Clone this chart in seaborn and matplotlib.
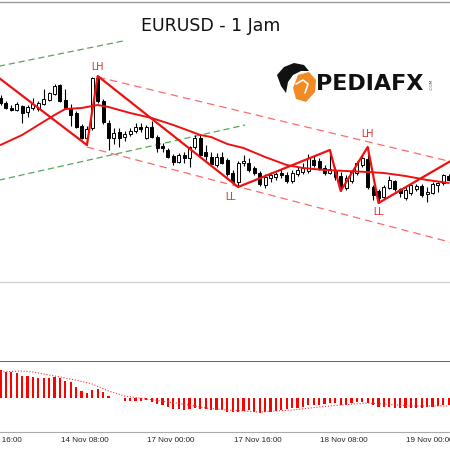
import numpy as np
import pandas as pd
import matplotlib
matplotlib.use("Agg")
import matplotlib.pyplot as plt
import seaborn as sns
from matplotlib.patches import Polygon
from matplotlib.transforms import blended_transform_factory

# EURUSD H1, candle 0 = 13 Nov 21:00
opens = [1.2502, 1.2497, 1.2492, 1.2490, 1.2494, 1.2488, 1.2492, 1.2491, 1.2496, 1.2500,
         1.2506, 1.2515, 1.2500, 1.2492, 1.2487, 1.2474, 1.2462, 1.2472, 1.2522, 1.2499,
         1.2477, 1.2462, 1.2468, 1.2463, 1.2466, 1.2469, 1.2473, 1.2462, 1.2473, 1.2463,
         1.2454, 1.2450, 1.2444, 1.2438, 1.2445, 1.2442, 1.2453, 1.2462, 1.2448, 1.2443,
         1.2435, 1.2443, 1.2440, 1.2427, 1.2418, 1.2437, 1.2437, 1.2432, 1.2427, 1.2415,
         1.2422, 1.2423, 1.2427, 1.2425, 1.2419, 1.2426, 1.2428, 1.2429, 1.2440, 1.2439,
         1.2432, 1.2427, 1.2430, 1.2424, 1.2412, 1.2419, 1.2427, 1.2435, 1.2441, 1.2413,
         1.2409, 1.2403, 1.2412, 1.2419, 1.2411, 1.2402, 1.2407, 1.2411, 1.2414, 1.2406,
         1.2407, 1.2415, 1.2417, 1.2424]
highs = [1.2505, 1.2499, 1.2495, 1.2498, 1.2495, 1.2495, 1.2502, 1.2499, 1.2511, 1.2508,
         1.2516, 1.2516, 1.2511, 1.2496, 1.2489, 1.2476, 1.2474, 1.2523, 1.2524, 1.2501,
         1.2480, 1.2472, 1.2472, 1.2469, 1.2472, 1.2477, 1.2477, 1.2475, 1.2479, 1.2465,
         1.2457, 1.2452, 1.2446, 1.2447, 1.2448, 1.2454, 1.2465, 1.2465, 1.2455, 1.2448,
         1.2447, 1.2448, 1.2442, 1.2430, 1.2439, 1.2445, 1.2442, 1.2434, 1.2429, 1.2426,
         1.2428, 1.2428, 1.2431, 1.2428, 1.2430, 1.2433, 1.2437, 1.2446, 1.2444, 1.2442,
         1.2435, 1.2450, 1.2433, 1.2428, 1.2425, 1.2430, 1.2439, 1.2445, 1.2453, 1.2415,
         1.2411, 1.2415, 1.2424, 1.2420, 1.2412, 1.2413, 1.2416, 1.2416, 1.2416, 1.2413,
         1.2418, 1.2418, 1.2426, 1.2426]
lows = [1.2495, 1.2491, 1.2489, 1.2489, 1.2477, 1.2483, 1.2490, 1.2489, 1.2495, 1.2499,
        1.2505, 1.2498, 1.2491, 1.2474, 1.2472, 1.2461, 1.2455, 1.2470, 1.2497, 1.2476,
        1.2450, 1.2456, 1.2453, 1.2459, 1.2464, 1.2467, 1.2468, 1.2461, 1.2462, 1.2448,
        1.2448, 1.2442, 1.2435, 1.2437, 1.2437, 1.2433, 1.2451, 1.2443, 1.2440, 1.2435,
        1.2433, 1.2436, 1.2424, 1.2416, 1.2413, 1.2434, 1.2428, 1.2425, 1.2414, 1.2412,
        1.2418, 1.2420, 1.2422, 1.2417, 1.2417, 1.2424, 1.2426, 1.2427, 1.2433, 1.2430,
        1.2425, 1.2426, 1.2420, 1.2409, 1.2410, 1.2417, 1.2425, 1.2433, 1.2411, 1.2400,
        1.2397, 1.2401, 1.2411, 1.2409, 1.2403, 1.2400, 1.2405, 1.2409, 1.2403, 1.2398,
        1.2406, 1.2408, 1.2415, 1.2419]
closes = [1.2497, 1.2492, 1.2490, 1.2496, 1.2487, 1.2493, 1.2496, 1.2497, 1.2501, 1.2507,
          1.2514, 1.2499, 1.2492, 1.2485, 1.2473, 1.2462, 1.2471, 1.2522, 1.2499, 1.2478,
          1.2462, 1.2467, 1.2462, 1.2466, 1.2469, 1.2473, 1.2471, 1.2473, 1.2463, 1.2452,
          1.2452, 1.2443, 1.2438, 1.2445, 1.2442, 1.2453, 1.2462, 1.2445, 1.2444, 1.2436,
          1.2443, 1.2437, 1.2426, 1.2418, 1.2437, 1.2439, 1.2430, 1.2427, 1.2416, 1.2423,
          1.2425, 1.2426, 1.2425, 1.2419, 1.2427, 1.2430, 1.2432, 1.2442, 1.2435, 1.2432,
          1.2427, 1.2431, 1.2423, 1.2412, 1.2422, 1.2428, 1.2437, 1.2442, 1.2413, 1.2405,
          1.2402, 1.2413, 1.2420, 1.2411, 1.2407, 1.2410, 1.2415, 1.2414, 1.2405, 1.2408,
          1.2416, 1.2417, 1.2425, 1.2420]

# moving average read at some bars
ma_idx = [0, 4, 7, 10, 12, 15, 17, 18, 20, 24, 28, 32, 37, 39, 42, 45, 49, 53, 56, 60, 64, 68, 71, 75, 79, 83]
ma_val = [1.2455, 1.2465, 1.2475, 1.2485, 1.2491, 1.2492, 1.2494, 1.2495, 1.2493, 1.2487, 1.2482, 1.2475, 1.2465,
          1.2463, 1.2456, 1.2452, 1.2443, 1.2435, 1.2432, 1.2430, 1.2429, 1.2428, 1.2427, 1.2424, 1.2420, 1.2417]

# zigzag swing points
zz_idx = [-1, 16, 18, 44, 61, 63, 68, 70, 84]
zz_val = [1.2525, 1.2455, 1.2524, 1.2413, 1.2450, 1.2409, 1.2453, 1.2397, 1.2441]

swing_idx = [17.9, 42.7, 68, 70, 84.5]
swing_val = [1.2533, 1.2403, 1.2466, 1.2388, 1.2449]
swing_txt = ["LH", "LL", "LH", "LL", "LH"]

# trend lines (start, end)
red_up = ([18, 86], [1.2523, 1.2435])
red_dn = ([16, 86], [1.2453, 1.2354])
green_up = ([-1, 22.7], [1.2533, 1.2559])
green_dn = ([-1, 45.3], [1.2419, 1.2475])
hline_level = 1.2318

macd_hist = [0.00028, 0.00026, 0.00026, 0.00025, 0.00022, 0.00022, 0.00021, 0.00020, 0.00020, 0.00020,
             0.00021, 0.00020, 0.00017, 0.00016, 0.00011, 0.00007, 0.00005, 0.00008, 0.00009, 0.00006,
             0.00002, 0.000005, 0.000005, -0.00003, -0.00003, -0.00003, -0.00003, -0.00002, -0.00004, -0.00006,
             -0.00007, -0.00009, -0.00011, -0.00011, -0.00012, -0.00011, -0.00010, -0.00011, -0.00011, -0.00012,
             -0.00012, -0.00012, -0.00014, -0.00014, -0.00014, -0.00013, -0.00012, -0.00014, -0.00015, -0.00014,
             -0.00014, -0.00013, -0.00012, -0.00011, -0.00010, -0.00010, -0.00009, -0.00007, -0.00007, -0.00007,
             -0.00006, -0.00005, -0.00005, -0.00007, -0.00007, -0.00005, -0.00004, -0.00004, -0.00005, -0.00007,
             -0.00009, -0.00009, -0.00009, -0.00010, -0.00010, -0.00010, -0.00010, -0.00010, -0.00010, -0.00009,
             -0.00009, -0.00008, -0.00007, -0.00007]
sig_idx = [0, 4, 6, 9, 13, 17, 20, 23, 27, 31, 35, 38, 42, 48, 54, 59, 63, 68, 71, 76, 83]
sig_val = [0.00026, 0.00027, 0.00026, 0.00023, 0.00019, 0.00014, 0.00007, 0.00002, -0.00001, -0.00004, -0.00007,
           -0.00010, -0.00012, -0.00014, -0.00012, -0.00009, -0.00007, -0.00005, -0.00006, -0.00008, -0.00008]

tick_idx = [-5, 11, 27, 43, 59, 75]
tick_lbl = ["13 Nov 16:00", "14 Nov 08:00", "17 Nov 00:00", "17 Nov 16:00", "18 Nov 08:00", "19 Nov 00:00"]

sns.set_style("white")
plt.rcParams["font.family"] = ["DejaVu Sans"]

df = pd.DataFrame({"i": np.arange(len(opens)), "open": opens, "high": highs,
                   "low": lows, "close": closes, "macd": macd_hist})
up = df["close"] >= df["open"]

fig = plt.figure(figsize=(4.5, 4.5), dpi=100)
ax = fig.add_axes([0, 1 - 362 / 450, 1, 360 / 450])
axm = fig.add_axes([0, 1 - 432 / 450, 1, 70 / 450])
xlim = (-0.5 / 5.4, 449.5 / 5.4)

# candles
ax.vlines(df["i"], df["low"], df["high"], color="black", lw=0.8, zorder=2)
ax.bar(df["i"], df["close"] - df["open"], bottom=df["open"], width=0.56,
       color=np.where(up, "white", "black"), edgecolor="black", lw=0.7, zorder=3)

# trend lines
ax.plot(*red_up, color="#ff6a6a", lw=0.9, dashes=(6, 4), zorder=1)
ax.plot(*red_dn, color="#ff6a6a", lw=0.9, dashes=(6, 4), zorder=1)
ax.plot(*green_up, color="#55a85a", lw=0.9, dashes=(5, 3), zorder=1)
ax.plot(*green_dn, color="#55a85a", lw=0.9, dashes=(5, 3), zorder=1)
ax.axhline(hline_level, color="#d4d4d4", lw=1)

sns.lineplot(x=ma_idx, y=ma_val, ax=ax, color="#ee1111", lw=1.4, zorder=4)
sns.lineplot(x=zz_idx, y=zz_val, ax=ax, color="#ee1111", lw=1.6, sort=False, zorder=5)

for xi, yv, t in zip(swing_idx, swing_val, swing_txt):
    ax.text(xi, yv, t, color="#e82020", fontsize=7, ha="center", va="center",
            family="Liberation Sans")

ax.set_xlim(*xlim)
ax.set_ylim(1.2238, 1.2598)
ax.set_xticks([])
ax.set_yticks([])
ax.set_xlabel("")
ax.set_ylabel("")
for s in ["left", "right"]:
    ax.spines[s].set_visible(False)
ax.spines["top"].set_color("#9a9a9a")
ax.spines["top"].set_linewidth(1)
ax.spines["bottom"].set_color("#555555")
ax.spines["bottom"].set_linewidth(2)

# MACD panel
axm.bar(df["i"], df["macd"], width=0.42, color="#ff0000", lw=0)
sns.lineplot(x=sig_idx, y=sig_val, ax=axm, color="#ff3030", lw=0.8, dashes=False)
axm.lines[-1].set_linestyle((0, (1, 1.6)))
axm.set_xlim(*xlim)
axm.set_ylim(-0.00034, 0.00036)
axm.set_yticks([])
axm.set_xlabel("")
axm.set_ylabel("")
for s in ["left", "right", "top"]:
    axm.spines[s].set_visible(False)
axm.spines["bottom"].set_color("#aaaaaa")
axm.set_xticks([t for t in tick_idx if t >= 0])
axm.set_xticklabels([])
axm.tick_params(axis="x", direction="out", length=2.5, width=0.8, color="#888888")
tr = blended_transform_factory(axm.transData, axm.transAxes)
for t, lab in zip(tick_idx, tick_lbl):
    axm.text(t + 0.15, -0.12, lab, transform=tr, ha="left", va="center",
             fontsize=5.8, family="Liberation Sans", color="#222222", clip_on=False)

# title and logo
fig.text(211 / 450, 1 - 26 / 450, "EURUSD - 1 Jam", ha="center", va="center",
         fontsize=12.5, color="#111111")
fig.text(316 / 450, 1 - 84 / 450, "PEDIAFX", ha="left", va="center",
         fontsize=16, weight="bold", color="#111111")
fig.text(432 / 450, 1 - 84 / 450, ".COM", ha="center", va="center",
         fontsize=3.2, rotation=90, color="#555555")

over = fig.add_axes([0, 0, 1, 1], zorder=10)
over.set_xlim(0, 450)
over.set_ylim(450, 0)
over.axis("off")
over.add_patch(Polygon([(298, 75), (309, 72), (316, 80), (315, 92), (306, 102), (296, 99), (293, 88)],
                       closed=True, color="#f28a26", lw=0))
over.add_patch(Polygon([(277, 75), (284, 67), (294, 63), (304, 65), (309, 71), (301, 71),
                        (293, 75), (288, 82), (286, 93), (281, 86)],
                       closed=True, color="#111111", lw=0))
over.plot([296, 303, 308, 305], [84, 80, 84, 93], color="white", lw=1.2)

fig.savefig("out.png", dpi=100, facecolor="white")
